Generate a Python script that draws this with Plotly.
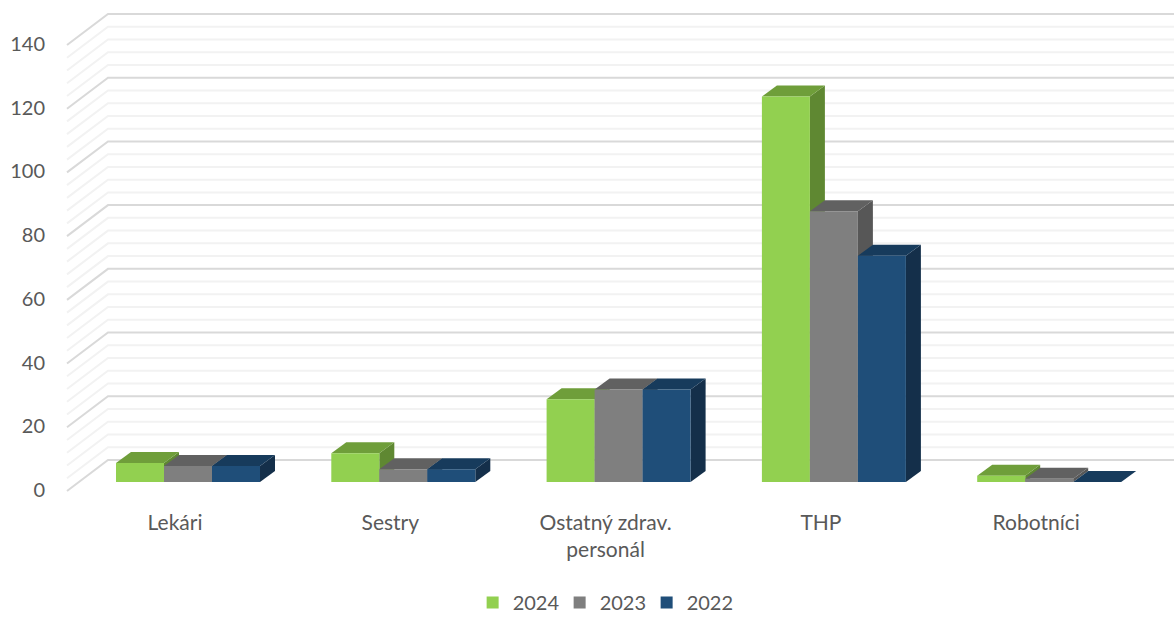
import plotly.graph_objects as go

categories = ["Lekári", "Sestry", "Ostatný zdrav. personál", "THP", "Robotníci"]
tick_text = ["Lekári", "Sestry", "Ostatný zdrav.<br>personál", "THP", "Robotníci"]
years = ["2024", "2023", "2022"]
values_2024 = [6, 9, 26, 121, 2]
values_2023 = [5, 4, 29, 85, 1]
values_2022 = [5, 4, 29, 71, 0]
y_ticks = [0, 20, 40, 60, 80, 100, 120, 140]
y_minor = [4, 8, 12, 16, 24, 28, 32, 36, 44, 48, 52, 56, 64, 68, 72, 76, 84, 88, 92, 96,
           104, 108, 112, 116, 124, 128, 132, 136]

front_colors = ["#92D050", "#7F7F7F", "#1F4E79"]
top_colors = ["#6F9E3A", "#616161", "#173B5C"]
side_colors = ["#5F8832", "#575757", "#142F4A"]

W, H = 1174, 617
PX_X = 215.3       # px per category
PX_Y = 3.186       # px per value unit
X0, Y0 = 188, 482  # px of category 0 centre, value 0 on the bars' front plane
L, B_EDGE = 66, 500
series = [values_2024, values_2023, values_2022]

bar_w = 48 / PX_X
bar_dx, bar_dy = 15 / PX_X, 11 / PX_Y
wall_front_x, wall_back_x = (67 - X0) / PX_X, (108 - X0) / PX_X
wall_front_dy, wall_back_dy = -9 / PX_Y, 22 / PX_Y
x_range = [(L - X0) / PX_X, (W - X0) / PX_X]
y_range = [(Y0 - B_EDGE) / PX_Y, Y0 / PX_Y]

fig = go.Figure()


def grid(levels, color):
    xs, ys = [], []
    for v in levels:
        xs += [wall_front_x, wall_back_x, x_range[1], None]
        ys += [v + wall_front_dy, v + wall_back_dy, v + wall_back_dy, None]
    fig.add_trace(go.Scatter(x=xs, y=ys, mode="lines", line=dict(color=color, width=2),
                             hoverinfo="skip", showlegend=False))


grid(y_minor, "#F2F2F2")
grid(y_ticks, "#D9D9D9")

for c in range(len(categories)):
    for s, vals in enumerate(series):
        v = vals[c]
        xl = c + (s - 1.5) * bar_w
        xr = xl + bar_w
        fig.add_trace(go.Scatter(
            x=[xr, xr + bar_dx, xr + bar_dx, xr, xr],
            y=[0, bar_dy, v + bar_dy, v, 0],
            mode="lines", fill="toself", fillcolor=side_colors[s],
            line=dict(width=0, color=side_colors[s]), hoverinfo="skip", showlegend=False))
        fig.add_trace(go.Scatter(
            x=[xl, xr, xr + bar_dx, xl + bar_dx, xl],
            y=[v, v, v + bar_dy, v + bar_dy, v],
            mode="lines", fill="toself", fillcolor=top_colors[s],
            line=dict(width=0, color=top_colors[s]), hoverinfo="skip", showlegend=False))

for s, vals in enumerate(series):
    fig.add_trace(go.Bar(name=years[s], x=categories, y=vals, xaxis="x2", yaxis="y2",
                         marker=dict(color=front_colors[s], line=dict(width=0))))

axis_font = dict(family="Lato, Carlito, sans-serif", size=20, color="#595959")
x_font = dict(family="Lato, Carlito, sans-serif", size=21, color="#595959")
fig.update_layout(
    width=W, height=H, autosize=False,
    margin=dict(l=L, r=0, t=0, b=H - B_EDGE, pad=0, autoexpand=False),
    paper_bgcolor="white", plot_bgcolor="white",
    barmode="group", bargap=1 - 3 * bar_w, bargroupgap=0,
    font=axis_font,
    xaxis=dict(range=x_range, tickmode="array", tickvals=list(range(len(categories))),
               ticktext=tick_text, showgrid=False, zeroline=False, showline=False,
               ticks="", ticklabelshift=-13, ticklabelstandoff=8, tickfont=x_font,
               automargin=False),
    yaxis=dict(range=y_range, tickmode="array", tickvals=y_ticks, showgrid=False,
               zeroline=False, showline=False, ticks="", ticklabelshift=8,
               ticklabelstandoff=20, tickfont=axis_font, automargin=False),
    xaxis2=dict(range=x_range, overlaying="x", type="category",
                categoryorder="array", categoryarray=categories, visible=False),
    yaxis2=dict(range=y_range, overlaying="y", visible=False),
    legend=dict(orientation="h", x=0.367, xanchor="left", y=-0.205, yanchor="middle",
                font=dict(family="Lato, Carlito, sans-serif", size=20, color="#595959"),
                traceorder="normal", entrywidth=42, entrywidthmode="pixels"),
)
fig.write_html("out.html", config={"displayModeBar": False},
               post_script="document.body.style.margin='0';")
